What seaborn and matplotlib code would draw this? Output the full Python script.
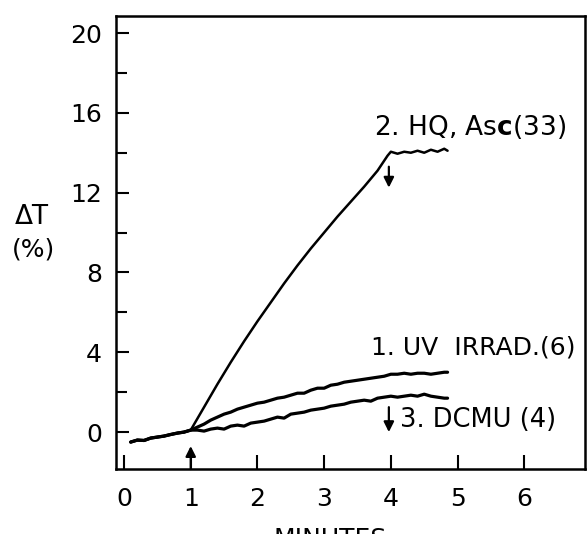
import numpy as np
import pandas as pd
import matplotlib
matplotlib.use('Agg')
import matplotlib.pyplot as plt
import seaborn as sns

# shared dark baseline before the addition at 1 min
t_base = [0.1, 0.2, 0.3, 0.4, 0.5, 0.6, 0.7, 0.8, 0.9]
y_base = [-0.5, -0.4, -0.42, -0.3, -0.25, -0.2, -0.12, -0.05, 0.0]

# trace 2: HQ, Asc
t_hq = [1.0, 1.2, 1.4, 1.6, 1.8, 2.0, 2.2, 2.4, 2.6, 2.8, 3.0, 3.2, 3.4, 3.6, 3.8, 3.95,
        4.0, 4.1, 4.2, 4.3, 4.4, 4.5, 4.6, 4.7, 4.8, 4.85]
y_hq = [0.1, 1.25, 2.4, 3.5, 4.55, 5.55, 6.5, 7.45, 8.35, 9.2, 10.0, 10.8, 11.55, 12.3, 13.1, 13.85,
        14.05, 13.95, 14.05, 14.0, 14.1, 14.0, 14.15, 14.05, 14.2, 14.1]

# trace 1: UV irradiated
t_uv = [1.0, 1.1, 1.2, 1.3, 1.4, 1.5, 1.6, 1.7, 1.8, 1.9, 2.0, 2.1, 2.2, 2.3, 2.4, 2.5,
        2.6, 2.7, 2.8, 2.9, 3.0, 3.1, 3.2, 3.3, 3.4, 3.5, 3.6, 3.7, 3.8, 3.9, 4.0, 4.1,
        4.2, 4.3, 4.4, 4.5, 4.6, 4.7, 4.8, 4.85]
y_uv = [0.1, 0.25, 0.4, 0.6, 0.75, 0.9, 1.0, 1.15, 1.25, 1.35, 1.45, 1.5, 1.6, 1.7, 1.75, 1.85,
        1.95, 1.95, 2.1, 2.2, 2.2, 2.35, 2.4, 2.5, 2.55, 2.6, 2.65, 2.7, 2.75, 2.8, 2.9, 2.9,
        2.95, 2.9, 2.95, 2.95, 2.9, 2.95, 3.0, 3.0]

# trace 3: DCMU
t_dcmu = t_uv
y_dcmu = [0.1, 0.1, 0.05, 0.15, 0.2, 0.15, 0.3, 0.35, 0.3, 0.45, 0.5, 0.55, 0.65, 0.75, 0.7, 0.9,
          0.95, 1.0, 1.1, 1.15, 1.2, 1.3, 1.35, 1.4, 1.5, 1.55, 1.6, 1.55, 1.7, 1.75, 1.8, 1.75,
          1.8, 1.85, 1.8, 1.9, 1.8, 1.75, 1.7, 1.7]

frames = []
for name, t, y in [('hq', t_hq, y_hq), ('uv', t_uv, y_uv), ('dcmu', t_dcmu, y_dcmu)]:
    frames.append(pd.DataFrame({'minutes': t_base + t, 'dT': y_base + y, 'trace': name}))
df = pd.concat(frames, ignore_index=True)

sns.set_style('ticks')
plt.rcParams['font.family'] = ['DejaVu Sans']
plt.rcParams['mathtext.fontset'] = 'dejavusans'
plt.rcParams['text.color'] = 'black'

fig = plt.figure(figsize=(5.87, 5.34), dpi=100)
ax = fig.add_axes([0.1976, 0.1217, 0.799, 0.849])

sns.lineplot(data=df[df.trace == 'hq'], x='minutes', y='dT', color='black',
             sort=False, estimator=None, lw=1.8, ax=ax)
sns.lineplot(data=df[df.trace != 'hq'], x='minutes', y='dT', hue='trace', units='trace',
             estimator=None, palette=['black', 'black'], sort=False, legend=False, lw=2.3, ax=ax)

ax.set_xlim(-0.12, 6.91)
ax.set_ylim(-1.85, 20.87)
ax.set_xticks(range(0, 7))
ax.set_yticks([0, 4, 8, 12, 16, 20])
ax.set_yticks([2, 6, 10, 14, 18], minor=True)
ax.tick_params(axis='both', which='both', direction='in', width=1.5, labelsize=18,
               color='black', labelcolor='black')
ax.tick_params(axis='y', which='major', length=9, pad=10)
ax.tick_params(axis='y', which='minor', length=8)
ax.tick_params(axis='x', which='major', length=10, pad=13)
for s in ax.spines.values():
    s.set_linewidth(1.8)
    s.set_color('black')
ax.set_xlabel('')
ax.set_ylabel('')

ax.text(5.19, 15.3, r'2. HQ, As$\mathbf{c}$(33)', fontsize=19, ha='center', va='center')
ax.text(5.23, 4.26, '1. UV  IRRAD.(6)', fontsize=18, ha='center', va='center')
ax.text(5.3, 0.6, '3. DCMU (4)', fontsize=18.5, ha='center', va='center')

arrow = dict(arrowstyle='-|>', color='black', lw=1.6, mutation_scale=15, shrinkA=0, shrinkB=0)
ax.annotate('', xy=(1.0, -0.7), xytext=(1.0, -1.85), arrowprops=arrow)
ax.annotate('', xy=(3.97, 12.25), xytext=(3.97, 13.3), arrowprops=arrow)
ax.annotate('', xy=(3.97, 0.0), xytext=(3.97, 1.25), arrowprops=arrow)

fig.text(0.055, 0.594, 'ΔT', fontsize=19, ha='center', va='center')
fig.text(0.057, 0.532, '(%)', fontsize=18, ha='center', va='center')
fig.text(0.562, 0.013, 'MINUTES', fontsize=18, ha='center', va='top')

fig.savefig('out.png', dpi=100)
